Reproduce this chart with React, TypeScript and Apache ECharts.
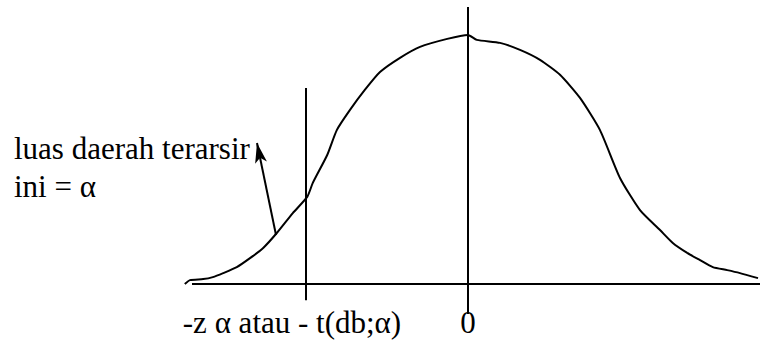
import React, { useEffect, useRef } from "react";
import * as echarts from "echarts";

// curve readings (x in z-units, y relative to peak height)
const curveX = [-3.54, -3.475, -3.31, -3.19, -3.06, -2.89, -2.725, -2.56, -2.39, -2.19, -2.01, -1.94, -1.76, -1.64, -1.475, -1.29, -1.1, -0.85, -0.6, -0.26, 0, 0.11, 0.4, 0.65, 0.9, 1.15, 1.4, 1.65, 1.9, 2.15, 2.4, 2.56, 2.74, 2.9, 3.06, 3.24, 3.4, 3.625];
const curveY = [0, 0.016, 0.02, 0.028, 0.044, 0.068, 0.104, 0.145, 0.205, 0.285, 0.35, 0.406, 0.518, 0.618, 0.699, 0.779, 0.851, 0.908, 0.952, 0.984, 1.0, 0.98, 0.968, 0.94, 0.9, 0.84, 0.747, 0.618, 0.426, 0.297, 0.217, 0.165, 0.125, 0.096, 0.068, 0.056, 0.044, 0.024];

const tickValues = [-2.025, 0];
const tickLabels = ["-z \u03b1 atau - t(db;\u03b1)", "0"];

const criticalX = -2.025;
const criticalTop = 0.787;
const centerTop = 1.112;
const arrowFrom = [-2.4, 0.197];
const arrowTo = [-2.6375, 0.566];
const baseFrom = -3.45;
const baseTo = 3.65;

const noteLines = ["luas daerah terarsir", "ini = \u03b1"];

const FONT = "Liberation Serif";
const FS = 31;

export default function App() {
  const ref = useRef<HTMLDivElement>(null);
  useEffect(() => {
    const chart = echarts.init(ref.current!, undefined, { renderer: "svg" });
    const curve = curveX.map((x, i) => [x, curveY[i]]);
    chart.setOption({
      animation: false,
      backgroundColor: "#fff",
      grid: { left: 184, right: 0, top: 5, bottom: 26 },
      xAxis: {
        type: "value",
        min: -3.55,
        max: 3.65,
        axisLine: { show: false, onZero: false },
        axisTick: { show: false },
        splitLine: { show: false },
        axisLabel: {
          customValues: tickValues,
          margin: -6,
          color: "#000",
          fontFamily: FONT,
          fontSize: FS,
          lineHeight: 28,
          formatter: (v: number) => {
            const i = tickValues.indexOf(v);
            if (i < 0) return "";
            return i === 0 ? "{a|" + tickLabels[0] + "}" : tickLabels[i];
          },
          rich: {
            a: { fontFamily: FONT, fontSize: FS, lineHeight: 28, color: "#000", padding: [0, 28, 0, 0] },
          },
        },
      },
      yAxis: {
        type: "value",
        min: -0.12,
        max: 1.12,
        show: false,
      },
      series: [
        {
          type: "line",
          data: curve,
          symbol: "none",
          smooth: 0.2,
          lineStyle: { color: "#000", width: 2 },
          silent: true,
          markLine: {
            silent: true,
            symbol: "none",
            label: { show: false },
            lineStyle: { color: "#000", width: 2, type: "solid" },
            emphasis: { disabled: true },
            data: [
              [{ coord: [baseFrom, 0] }, { coord: [baseTo, 0] }],
              [{ coord: [0, -0.12] }, { coord: [0, centerTop] }],
              [{ coord: [criticalX, -0.065] }, { coord: [criticalX, criticalTop] }],
              [
                { coord: arrowFrom, symbol: "none" },
                { coord: arrowTo, symbol: "arrow", symbolSize: [9, 20] },
              ],
            ],
          },
        },
      ],
      graphic: [
        {
          type: "text",
          x: 14,
          y: 148,
          style: {
            text: noteLines[0],
            fontFamily: FONT,
            fontSize: FS,
            fill: "#000",
            align: "left",
            verticalAlign: "middle",
          },
        },
        {
          type: "text",
          x: 14,
          y: 186,
          style: {
            text: noteLines[1],
            fontFamily: FONT,
            fontSize: FS,
            fill: "#000",
            align: "left",
            verticalAlign: "middle",
          },
        },
      ],
    });
    return () => chart.dispose();
  }, []);
  return (
    <div
      ref={ref}
      style={{ position: "fixed", left: 0, top: 0, width: 760, height: 340 }}
    />
  );
}
